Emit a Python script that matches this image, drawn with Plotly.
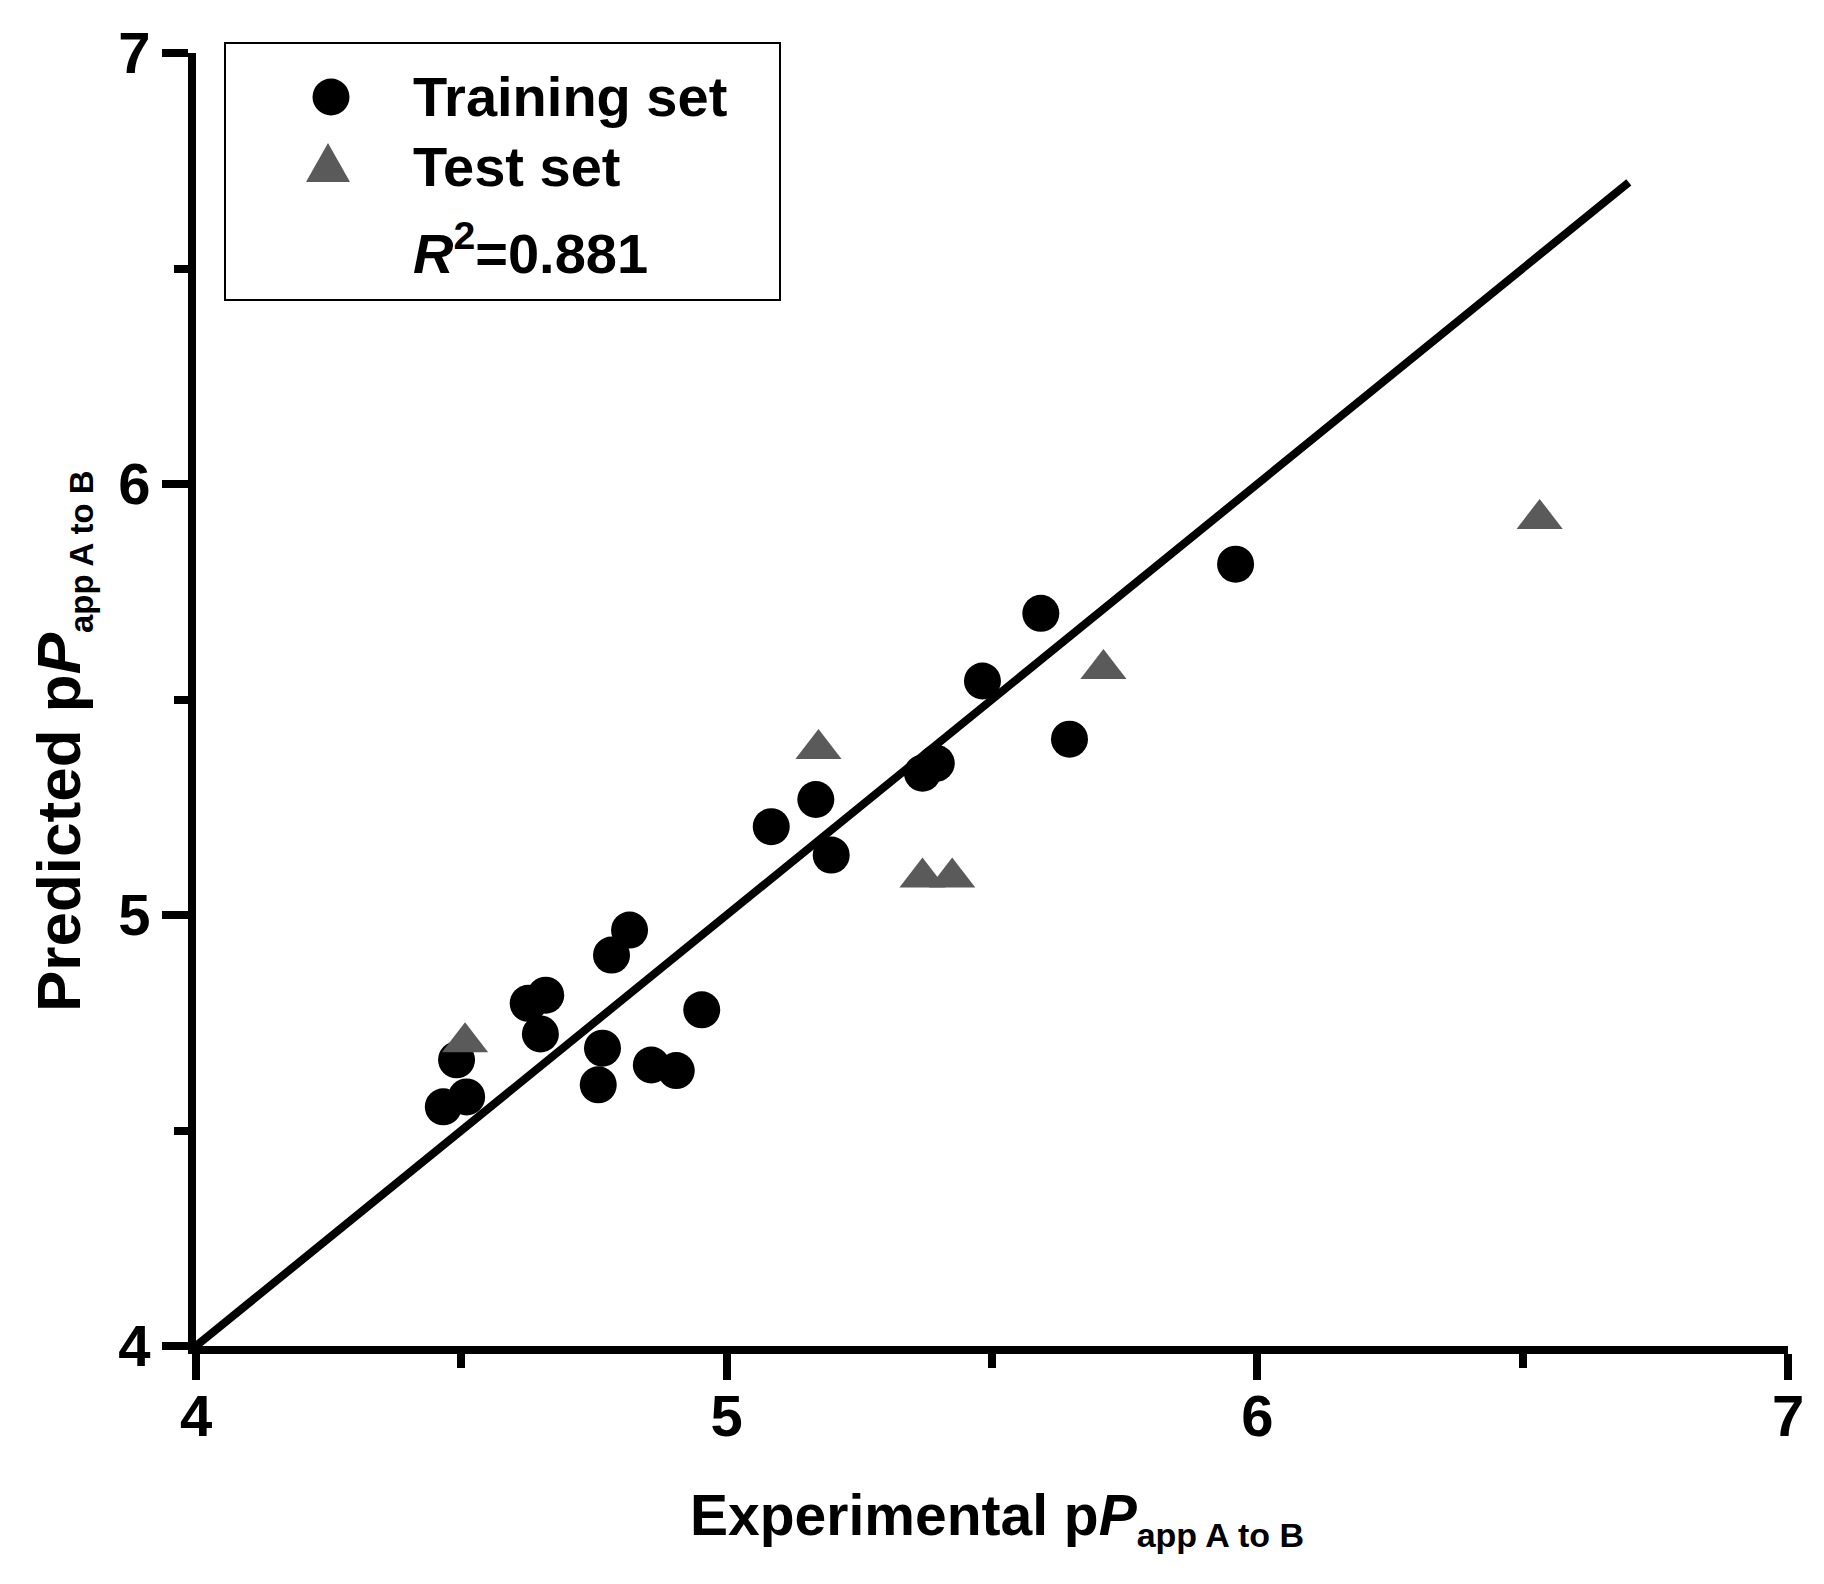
import plotly.graph_objects as go

# Training set: experimental vs predicted
train_exp = [4.817, 4.783, 4.659, 4.626, 4.649, 4.953, 4.766, 4.758, 4.858, 4.905, 4.491,
             4.510, 4.466, 5.168, 5.084, 5.197, 5.369, 5.395, 5.592, 5.482, 5.646, 5.959]
train_pred = [4.965, 4.907, 4.814, 4.795, 4.724, 4.780, 4.691, 4.606, 4.652, 4.639, 4.664,
              4.578, 4.555, 5.268, 5.205, 5.139, 5.329, 5.352, 5.700, 5.543, 5.408, 5.814]

# Test set
test_exp = [4.507, 5.173, 5.369, 5.425, 5.710, 6.532]
test_pred = [4.705, 5.385, 5.087, 5.087, 5.571, 5.919]

# fitted line
line_x = [4, 6.7]
line_y = [4, 6.7]

r2_text = "<i>R</i><sup>2</sup>=0.881"
x_title = "Experimental p<i>P</i><sub><span style='font-size:34px'>app A to B</span></sub>"
y_title = "Predicted p<i>P</i><sub><span style='font-size:33px'>app A to B</span></sub>"

FONT = "Liberation Sans, Arial, sans-serif"
GRAY = "#5a5a5a"

# the page has an 8px body margin, so the figure is a bit smaller than the window
OFF = 8
W, H = 1824 - 2 * OFF, 1584 - 2 * OFF
ML, MR, MT, MB = 196 - OFF, 36 - OFF, 53 - OFF, 238 - OFF


def px_to_paper(px, py):
    # pixel of the page -> paper coordinates
    px, py = px - OFF, py - OFF
    return (px - ML) / (W - ML - MR), (H - MB - py) / (H - MT - MB)


fig = go.Figure()

fig.add_trace(go.Scatter(x=line_x, y=line_y, mode="lines",
                         line=dict(color="black", width=8), showlegend=False))
fig.add_trace(go.Scatter(x=train_exp, y=train_pred, mode="markers", name="Training set",
                         marker=dict(symbol="circle", size=37, color="black", line=dict(width=0)),
                         showlegend=False))
fig.add_trace(go.Scatter(x=test_exp, y=test_pred, mode="markers", name="Test set",
                         marker=dict(symbol="triangle-up", size=40, color=GRAY, line=dict(width=0)),
                         showlegend=False))

axis_common = dict(
    range=[4, 7], dtick=1, showgrid=False, zeroline=False,
    showline=True, linecolor="black", linewidth=8,
    ticks="outside", ticklen=26, tickwidth=8, tickcolor="black",
    tickfont=dict(family=FONT, size=58, color="black", weight="bold"),
    minor=dict(dtick=0.5, ticks="outside", ticklen=14, tickwidth=8, tickcolor="black"),
)
fig.update_xaxes(**axis_common, ticklabelstandoff=-14)
fig.update_yaxes(**axis_common)

# legend box drawn by hand
x0, y0 = px_to_paper(225, 300)
x1, y1 = px_to_paper(780, 43)
fig.add_shape(type="rect", xref="paper", yref="paper", x0=x0, y0=y0, x1=x1, y1=y1,
              line=dict(color="black", width=2), fillcolor="white", layer="below")

cx, cy = px_to_paper(331, 97)
fig.add_shape(type="circle", xref="paper", yref="paper", xsizemode="pixel", ysizemode="pixel",
              xanchor=cx, yanchor=cy, x0=-18.5, x1=18.5, y0=-18.5, y1=18.5,
              fillcolor="black", line=dict(width=0))
tx, ty = px_to_paper(328, 162.5)
fig.add_shape(type="path", xref="paper", yref="paper", xsizemode="pixel", ysizemode="pixel",
              xanchor=tx, yanchor=ty, path="M -22 -19.5 L 22 -19.5 L 0 19.5 Z",
              fillcolor=GRAY, line=dict(width=0))

leg_font = dict(family=FONT, size=56, color="black", weight="bold")
for label, py in [("Training set", 97), ("Test set", 167), (r2_text, 250)]:
    ax, ay = px_to_paper(411, py)
    fig.add_annotation(text=label, x=ax, y=ay, xref="paper", yref="paper",
                       xanchor="left", yanchor="middle", showarrow=False, font=leg_font)

# axis titles
ax, ay = px_to_paper(997, 1518)
fig.add_annotation(text=x_title, x=ax, y=ay, xref="paper", yref="paper",
                   xanchor="center", yanchor="middle", showarrow=False,
                   font=dict(family=FONT, size=57, color="black", weight="bold"))
ax, ay = px_to_paper(62, 741)
fig.add_annotation(text=y_title, x=ax, y=ay, xref="paper", yref="paper", textangle=-90,
                   xanchor="center", yanchor="middle", showarrow=False,
                   font=dict(family=FONT, size=62, color="black", weight="bold"))

fig.update_layout(
    width=W, height=H,
    margin=dict(l=ML, r=MR, t=MT, b=MB),
    plot_bgcolor="white", paper_bgcolor="white",
    showlegend=False,
)

fig.write_html("out.html")
